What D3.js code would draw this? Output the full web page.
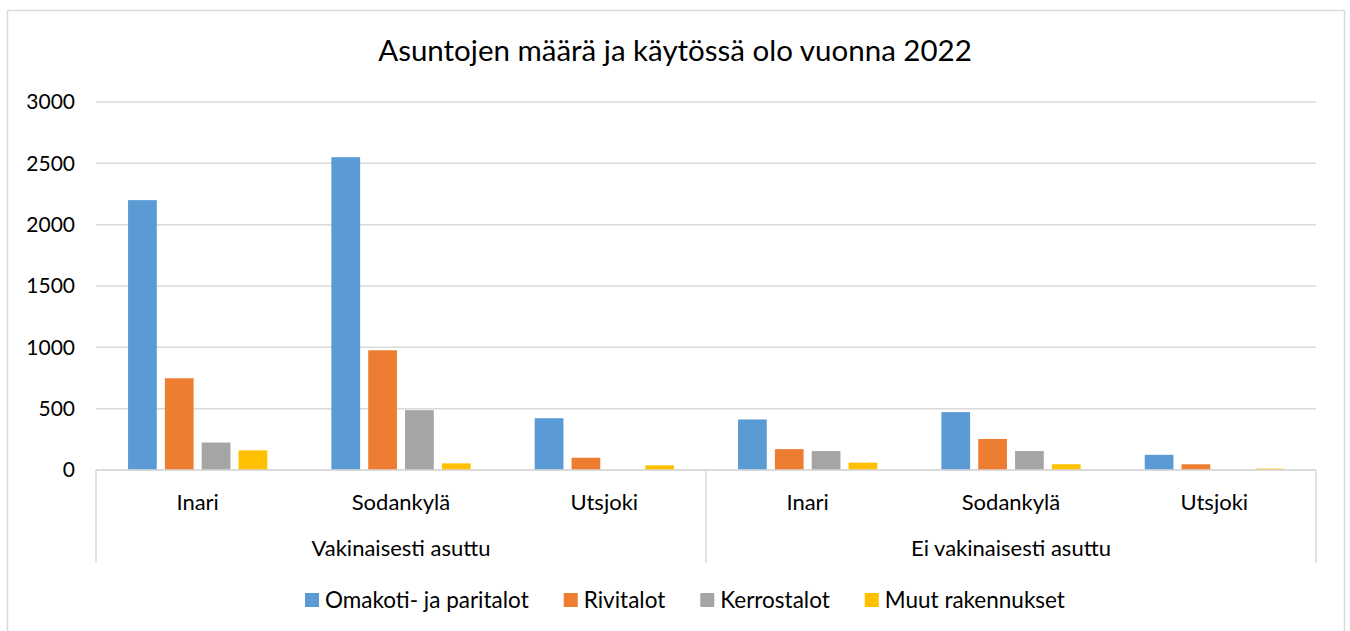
<!DOCTYPE html>
<html>
<head>
<meta charset="utf-8">
<script src="https://cdn.jsdelivr.net/npm/d3@7"></script>
<style>
  body { margin: 0; background: #fff; }
  text { font-family: Lato, "Open Sans", sans-serif; fill: #000; }
</style>
</head>
<body>
<div id="chart"></div>
<script>
// data
var groups = ["Vakinaisesti asuttu", "Ei vakinaisesti asuttu"];
var towns = ["Inari", "Sodankylä", "Utsjoki"];
var seriesNames = ["Omakoti- ja paritalot", "Rivitalot", "Kerrostalot", "Muut rakennukset"];
var omakoti = [2200, 2550, 422, 412, 472, 124];
var rivitalot = [748, 976, 100, 170, 253, 47];
var kerrostalot = [224, 488, 0, 154, 154, 0];
var muut = [160, 54, 38, 60, 47, 11];
var yTicks = [0, 500, 1000, 1500, 2000, 2500, 3000];
var colors = ["#5b9bd5", "#ed7d31", "#a5a5a5", "#ffc000"];

var svgWidth = 1350;
var svgHeight = 631;
var margin = {top: 102, right: 34, bottom: 161, left: 96};
var width = svgWidth - margin.left - margin.right;
var height = svgHeight - margin.top - margin.bottom;

var svg = d3.select("#chart").append("svg")
  .attr("width", svgWidth)
  .attr("height", svgHeight);

// outer chart border
svg.append("rect")
  .attr("x", 7.5).attr("y", 10.5)
  .attr("width", 1337).attr("height", 640)
  .attr("fill", "none").attr("stroke", "#d9d9d9").attr("stroke-width", 1.5);

svg.append("text")
  .attr("x", svgWidth / 2).attr("y", 61)
  .attr("text-anchor", "middle")
  .style("font-size", "29.5px")
  .text("Asuntojen määrä ja käytössä olo vuonna 2022");

// categories: group|town
var cats = [];
groups.forEach(function(g) { towns.forEach(function(t) { cats.push(g + "|" + t); }); });

var table = cats.map(function(c, i) {
  return {cat: c, values: [omakoti[i], rivitalot[i], kerrostalot[i], muut[i]]};
});

var x0 = d3.scaleBand().domain(cats).range([0, width]);
var x1 = d3.scaleBand().domain(d3.range(seriesNames.length))
  .range([0, x0.bandwidth()]).paddingInner(0.22).paddingOuter(0.87);
var xGroup = d3.scaleBand().domain(groups).range([0, width]);
var y = d3.scaleLinear().domain([0, 3000]).range([height, 0]);

var chartGroup = svg.append("g")
  .attr("transform", `translate(${margin.left}, ${margin.top})`);

// gridlines
chartGroup.selectAll(".grid").data(yTicks).enter()
  .append("line")
  .attr("x1", 0).attr("x2", width)
  .attr("y1", d => y(d)).attr("y2", d => y(d))
  .attr("stroke", "#d9d9d9").attr("stroke-width", 1.5);

// y axis labels
var leftAxis = d3.axisLeft(y).tickValues(yTicks).tickFormat(d3.format("d"))
  .tickSize(0).tickPadding(21);
var yAxis = chartGroup.append("g").call(leftAxis);
yAxis.select(".domain").remove();
yAxis.selectAll("text").style("font-size", "21px").attr("fill", "#000")
  .style("font-family", "Lato, 'Open Sans', sans-serif");

// bars
var catG = chartGroup.selectAll(".cat").data(table).enter()
  .append("g").attr("transform", d => `translate(${x0(d.cat)},0)`);
catG.selectAll("rect").data(d => d.values).enter()
  .append("rect")
  .attr("x", (d, i) => x1(i))
  .attr("width", x1.bandwidth())
  .attr("y", d => y(d))
  .attr("height", d => height - y(d))
  .attr("fill", (d, i) => colors[i]);

// category axis (two levels)
var axisG = chartGroup.append("g").attr("transform", `translate(0, ${height})`);
var sepX = [0, xGroup("Ei vakinaisesti asuttu"), width];
axisG.selectAll(".sep").data(sepX).enter().append("line")
  .attr("x1", d => d).attr("x2", d => d)
  .attr("y1", 0).attr("y2", 93)
  .attr("stroke", "#d9d9d9").attr("stroke-width", 1.5);
axisG.append("line").attr("x1", 0).attr("x2", width).attr("y1", 0).attr("y2", 0)
  .attr("stroke", "#d9d9d9").attr("stroke-width", 1.5);

axisG.selectAll(".town").data(cats).enter().append("text")
  .attr("x", d => x0(d) + x0.bandwidth() / 2)
  .attr("y", 40)
  .attr("text-anchor", "middle")
  .style("font-size", "22px")
  .text(d => d.split("|")[1]);

axisG.selectAll(".grp").data(groups).enter().append("text")
  .attr("x", d => xGroup(d) + xGroup.bandwidth() / 2)
  .attr("y", 86)
  .attr("text-anchor", "middle")
  .style("font-size", "22px")
  .text(d => d);

// legend
var legend = svg.append("g");
var lx = 305;
seriesNames.forEach(function(name, i) {
  legend.append("rect")
    .attr("x", lx).attr("y", 593)
    .attr("width", 14).attr("height", 14)
    .attr("fill", colors[i]);
  var t = legend.append("text")
    .attr("x", lx + 20).attr("y", 608)
    .style("font-size", "22.5px")
    .text(name);
  lx += 20 + t.node().getComputedTextLength() + 35;
});
</script>
</body>
</html>
